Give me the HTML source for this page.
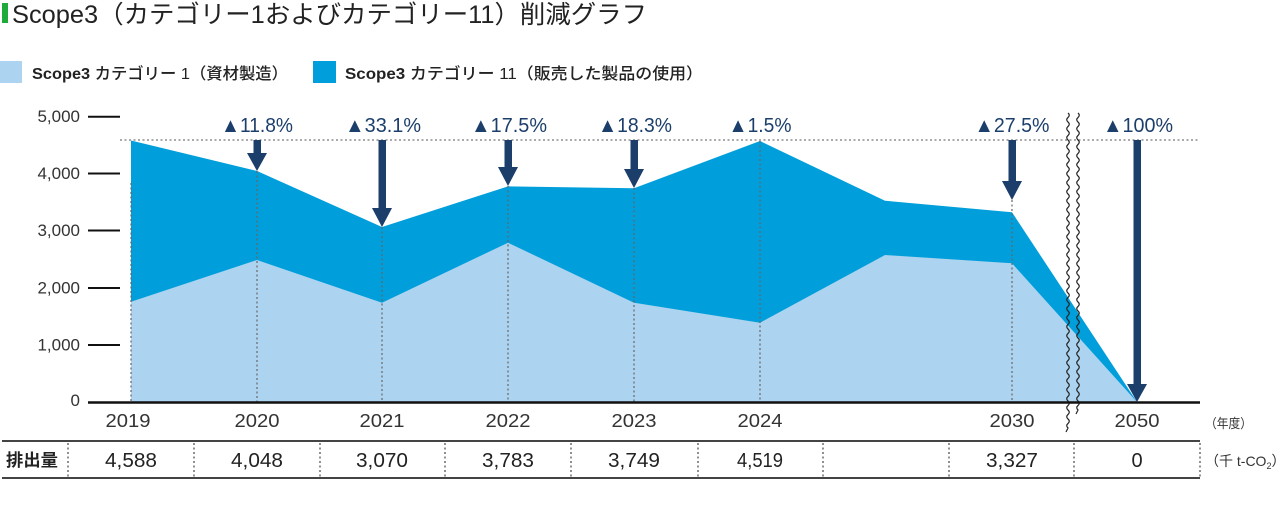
<!DOCTYPE html>
<html><head><meta charset="utf-8"><style>
html,body{margin:0;padding:0;background:#fff;}
svg{display:block;}
text{font-family:"Liberation Sans","Noto Sans CJK JP",sans-serif;}
</style></head><body>
<svg width="1280" height="519" viewBox="0 0 1280 519" xmlns="http://www.w3.org/2000/svg">
<!-- title -->
<rect x="2" y="3" width="6" height="20" fill="#1faa3c"/>
<text x="12" y="23" font-size="25" fill="#222" textLength="635" lengthAdjust="spacingAndGlyphs">Scope3（カテゴリー1およびカテゴリー11）削減グラフ</text>
<!-- legend -->
<rect x="0" y="61" width="22" height="22" fill="#acd3ef"/>
<text x="32" y="79" font-size="16" fill="#222" textLength="256" lengthAdjust="spacingAndGlyphs"><tspan font-weight="700">Scope3</tspan><tspan font-weight="500"> カテゴリー 1（資材製造）</tspan></text>
<rect x="313" y="61" width="23" height="22" fill="#009fdb"/>
<text x="345" y="79" font-size="16" fill="#222" textLength="358" lengthAdjust="spacingAndGlyphs"><tspan font-weight="700">Scope3</tspan><tspan font-weight="500"> カテゴリー 11（販売した製品の使用）</tspan></text>

<!-- y axis ticks & labels -->
<g stroke="#111" stroke-width="2">
<line x1="88" y1="116.7" x2="120" y2="116.7"/>
<line x1="88" y1="173.5" x2="120" y2="173.5"/>
<line x1="88" y1="230.5" x2="120" y2="230.5"/>
<line x1="88" y1="288" x2="120" y2="288"/>
<line x1="88" y1="345" x2="120" y2="345"/>
</g>
<g font-size="17" fill="#333" text-anchor="end">
<text x="80" y="122">5,000</text>
<text x="80" y="179">4,000</text>
<text x="80" y="236">3,000</text>
<text x="80" y="293.5">2,000</text>
<text x="80" y="350.5">1,000</text>
<text x="80" y="406">0</text>
</g>

<!-- areas -->
<polygon fill="#009fdb" points="131,402 131,140.5 257,171 382,227 508,186.4 634,188.3 760,141 885,200.7 1012,212.3 1137,402"/>
<polygon fill="#acd3ef" points="131,402 131,301.7 257,260 382,302.7 508,242.7 634,302.7 760,322.7 885,255 1012,263.3 1137,402"/>

<!-- dotted horizontal reference -->
<line x1="120" y1="140" x2="1200" y2="140" stroke="#777" stroke-width="1.2" stroke-dasharray="2,2.5"/>
<!-- vertical dotted lines -->
<g stroke="#666" stroke-width="1.2" stroke-dasharray="2,2.5">
<line x1="131" y1="183" x2="131" y2="402"/>
<line x1="257" y1="171" x2="257" y2="402"/>
<line x1="382" y1="227" x2="382" y2="402"/>
<line x1="508" y1="186" x2="508" y2="402"/>
<line x1="634" y1="188" x2="634" y2="402"/>
<line x1="760" y1="141" x2="760" y2="402"/>
<line x1="1012" y1="200" x2="1012" y2="402"/>
</g>

<!-- wavy break lines -->
<g fill="none" stroke="#222" stroke-width="1.2">
<path d="M1068,113 q2.5,2.25 0,4.5 q-2.5,2.25 0,4.5 q2.5,2.25 0,4.5 q-2.5,2.25 0,4.5 q2.5,2.25 0,4.5 q-2.5,2.25 0,4.5 q2.5,2.25 0,4.5 q-2.5,2.25 0,4.5 q2.5,2.25 0,4.5 q-2.5,2.25 0,4.5 q2.5,2.25 0,4.5 q-2.5,2.25 0,4.5 q2.5,2.25 0,4.5 q-2.5,2.25 0,4.5 q2.5,2.25 0,4.5 q-2.5,2.25 0,4.5 q2.5,2.25 0,4.5 q-2.5,2.25 0,4.5 q2.5,2.25 0,4.5 q-2.5,2.25 0,4.5 q2.5,2.25 0,4.5 q-2.5,2.25 0,4.5 q2.5,2.25 0,4.5 q-2.5,2.25 0,4.5 q2.5,2.25 0,4.5 q-2.5,2.25 0,4.5 q2.5,2.25 0,4.5 q-2.5,2.25 0,4.5 q2.5,2.25 0,4.5 q-2.5,2.25 0,4.5 q2.5,2.25 0,4.5 q-2.5,2.25 0,4.5 q2.5,2.25 0,4.5 q-2.5,2.25 0,4.5 q2.5,2.25 0,4.5 q-2.5,2.25 0,4.5 q2.5,2.25 0,4.5 q-2.5,2.25 0,4.5 q2.5,2.25 0,4.5 q-2.5,2.25 0,4.5 q2.5,2.25 0,4.5 q-2.5,2.25 0,4.5 q2.5,2.25 0,4.5 q-2.5,2.25 0,4.5 q2.5,2.25 0,4.5 q-2.5,2.25 0,4.5 q2.5,2.25 0,4.5 q-2.5,2.25 0,4.5 q2.5,2.25 0,4.5 q-2.5,2.25 0,4.5 q2.5,2.25 0,4.5 q-2.5,2.25 0,4.5 q2.5,2.25 0,4.5 q-2.5,2.25 0,4.5 q2.5,2.25 0,4.5 q-2.5,2.25 0,4.5 q2.5,2.25 0,4.5 q-2.5,2.25 0,4.5 q2.5,2.25 0,4.5 q-2.5,2.25 0,4.5 q2.5,2.25 0,4.5 q-2.5,2.25 0,4.5 q2.5,2.25 0,4.5 q-2.5,2.25 0,4.5 q2.5,2.25 0,4.5 q-2.5,2.25 0,4.5 q2.5,2.25 0,4.5 q-2.5,2.25 0,4.5 q2.5,2.25 0,4.5 q-2.5,2.25 0,4.5 l-2,4"/>
<path d="M1078,113 q2.5,2.25 0,4.5 q-2.5,2.25 0,4.5 q2.5,2.25 0,4.5 q-2.5,2.25 0,4.5 q2.5,2.25 0,4.5 q-2.5,2.25 0,4.5 q2.5,2.25 0,4.5 q-2.5,2.25 0,4.5 q2.5,2.25 0,4.5 q-2.5,2.25 0,4.5 q2.5,2.25 0,4.5 q-2.5,2.25 0,4.5 q2.5,2.25 0,4.5 q-2.5,2.25 0,4.5 q2.5,2.25 0,4.5 q-2.5,2.25 0,4.5 q2.5,2.25 0,4.5 q-2.5,2.25 0,4.5 q2.5,2.25 0,4.5 q-2.5,2.25 0,4.5 q2.5,2.25 0,4.5 q-2.5,2.25 0,4.5 q2.5,2.25 0,4.5 q-2.5,2.25 0,4.5 q2.5,2.25 0,4.5 q-2.5,2.25 0,4.5 q2.5,2.25 0,4.5 q-2.5,2.25 0,4.5 q2.5,2.25 0,4.5 q-2.5,2.25 0,4.5 q2.5,2.25 0,4.5 q-2.5,2.25 0,4.5 q2.5,2.25 0,4.5 q-2.5,2.25 0,4.5 q2.5,2.25 0,4.5 q-2.5,2.25 0,4.5 q2.5,2.25 0,4.5 q-2.5,2.25 0,4.5 q2.5,2.25 0,4.5 q-2.5,2.25 0,4.5 q2.5,2.25 0,4.5 q-2.5,2.25 0,4.5 q2.5,2.25 0,4.5 q-2.5,2.25 0,4.5 q2.5,2.25 0,4.5 q-2.5,2.25 0,4.5 q2.5,2.25 0,4.5 q-2.5,2.25 0,4.5 q2.5,2.25 0,4.5 q-2.5,2.25 0,4.5 q2.5,2.25 0,4.5 q-2.5,2.25 0,4.5 q2.5,2.25 0,4.5 q-2.5,2.25 0,4.5 q2.5,2.25 0,4.5 q-2.5,2.25 0,4.5 q2.5,2.25 0,4.5 q-2.5,2.25 0,4.5 q2.5,2.25 0,4.5 q-2.5,2.25 0,4.5 q2.5,2.25 0,4.5 q-2.5,2.25 0,4.5 q2.5,2.25 0,4.5 q-2.5,2.25 0,4.5 q2.5,2.25 0,4.5 q-2.5,2.25 0,4.5 l-2,4"/>
</g>

<!-- baseline axis -->
<line x1="88" y1="402.5" x2="1200" y2="402.5" stroke="#111" stroke-width="2.5"/>

<!-- arrows -->
<g fill="#1b3e6b">
<rect x="253.5" y="140" width="7.5" height="14"/><polygon points="247,153 267,153 257,171"/>
<rect x="378.5" y="140" width="7.5" height="69"/><polygon points="372,208 392,208 382,227"/>
<rect x="504.5" y="140" width="7.5" height="28"/><polygon points="498,167 518,167 508,186"/>
<rect x="630.5" y="140" width="7.5" height="30"/><polygon points="624,169 644,169 634,188"/>
<rect x="1008.5" y="140" width="7.5" height="42"/><polygon points="1002,181 1022,181 1012,200"/>
<rect x="1133.5" y="140" width="7.5" height="245"/><polygon points="1127,384 1147,384 1137,402"/>
</g>

<!-- percentage labels -->
<g font-size="20" fill="#1b3e6b" text-anchor="middle">
<text x="257" y="132" textLength="72" lengthAdjust="spacingAndGlyphs">▲11.8%</text>
<text x="383" y="132" textLength="76" lengthAdjust="spacingAndGlyphs">▲33.1%</text>
<text x="509" y="132" textLength="76" lengthAdjust="spacingAndGlyphs">▲17.5%</text>
<text x="635" y="132" textLength="74" lengthAdjust="spacingAndGlyphs">▲18.3%</text>
<text x="760" y="132" textLength="63" lengthAdjust="spacingAndGlyphs">▲1.5%</text>
<text x="1012" y="132" textLength="75" lengthAdjust="spacingAndGlyphs">▲27.5%</text>
<text x="1138" y="132" textLength="70" lengthAdjust="spacingAndGlyphs">▲100%</text>
</g>

<!-- year labels -->
<g font-size="18" fill="#333" text-anchor="middle">
<text x="128" y="427" textLength="45" lengthAdjust="spacingAndGlyphs">2019</text>
<text x="257" y="427" textLength="45" lengthAdjust="spacingAndGlyphs">2020</text>
<text x="382" y="427" textLength="45" lengthAdjust="spacingAndGlyphs">2021</text>
<text x="508" y="427" textLength="45" lengthAdjust="spacingAndGlyphs">2022</text>
<text x="634" y="427" textLength="45" lengthAdjust="spacingAndGlyphs">2023</text>
<text x="760" y="427" textLength="45" lengthAdjust="spacingAndGlyphs">2024</text>
<text x="1012" y="427" textLength="45" lengthAdjust="spacingAndGlyphs">2030</text>
<text x="1137" y="427" textLength="45" lengthAdjust="spacingAndGlyphs">2050</text>
</g>
<text x="1205" y="428" font-size="13" fill="#333" textLength="47" lengthAdjust="spacingAndGlyphs">（年度）</text>

<!-- table -->
<line x1="2" y1="441" x2="1200" y2="441" stroke="#444" stroke-width="2"/>
<line x1="2" y1="478" x2="1200" y2="478" stroke="#444" stroke-width="2"/>
<g stroke="#555" stroke-width="1.3" stroke-dasharray="2,2.5">
<line x1="68" y1="443" x2="68" y2="477"/>
<line x1="194" y1="443" x2="194" y2="477"/>
<line x1="320" y1="443" x2="320" y2="477"/>
<line x1="445" y1="443" x2="445" y2="477"/>
<line x1="571" y1="443" x2="571" y2="477"/>
<line x1="698" y1="443" x2="698" y2="477"/>
<line x1="823" y1="443" x2="823" y2="477"/>
<line x1="949" y1="443" x2="949" y2="477"/>
<line x1="1074" y1="443" x2="1074" y2="477"/>
<line x1="1200" y1="443" x2="1200" y2="477"/>
</g>
<text x="6" y="466" font-size="17" font-weight="700" fill="#222" textLength="52" lengthAdjust="spacingAndGlyphs">排出量</text>
<g font-size="20" fill="#222" text-anchor="middle">
<text x="131" y="467" textLength="52" lengthAdjust="spacingAndGlyphs">4,588</text>
<text x="257" y="467" textLength="52" lengthAdjust="spacingAndGlyphs">4,048</text>
<text x="382" y="467" textLength="52" lengthAdjust="spacingAndGlyphs">3,070</text>
<text x="508" y="467" textLength="52" lengthAdjust="spacingAndGlyphs">3,783</text>
<text x="634" y="467" textLength="52" lengthAdjust="spacingAndGlyphs">3,749</text>
<text x="760" y="467" textLength="46" lengthAdjust="spacingAndGlyphs">4,519</text>
<text x="1012" y="467" textLength="52" lengthAdjust="spacingAndGlyphs">3,327</text>
<text x="1137" y="467">0</text>
</g>
<text x="1205" y="466" font-size="14" fill="#333">（千 t-CO<tspan font-size="9" dy="3">2</tspan><tspan dy="-3">）</tspan></text>
</svg>
</body></html>
